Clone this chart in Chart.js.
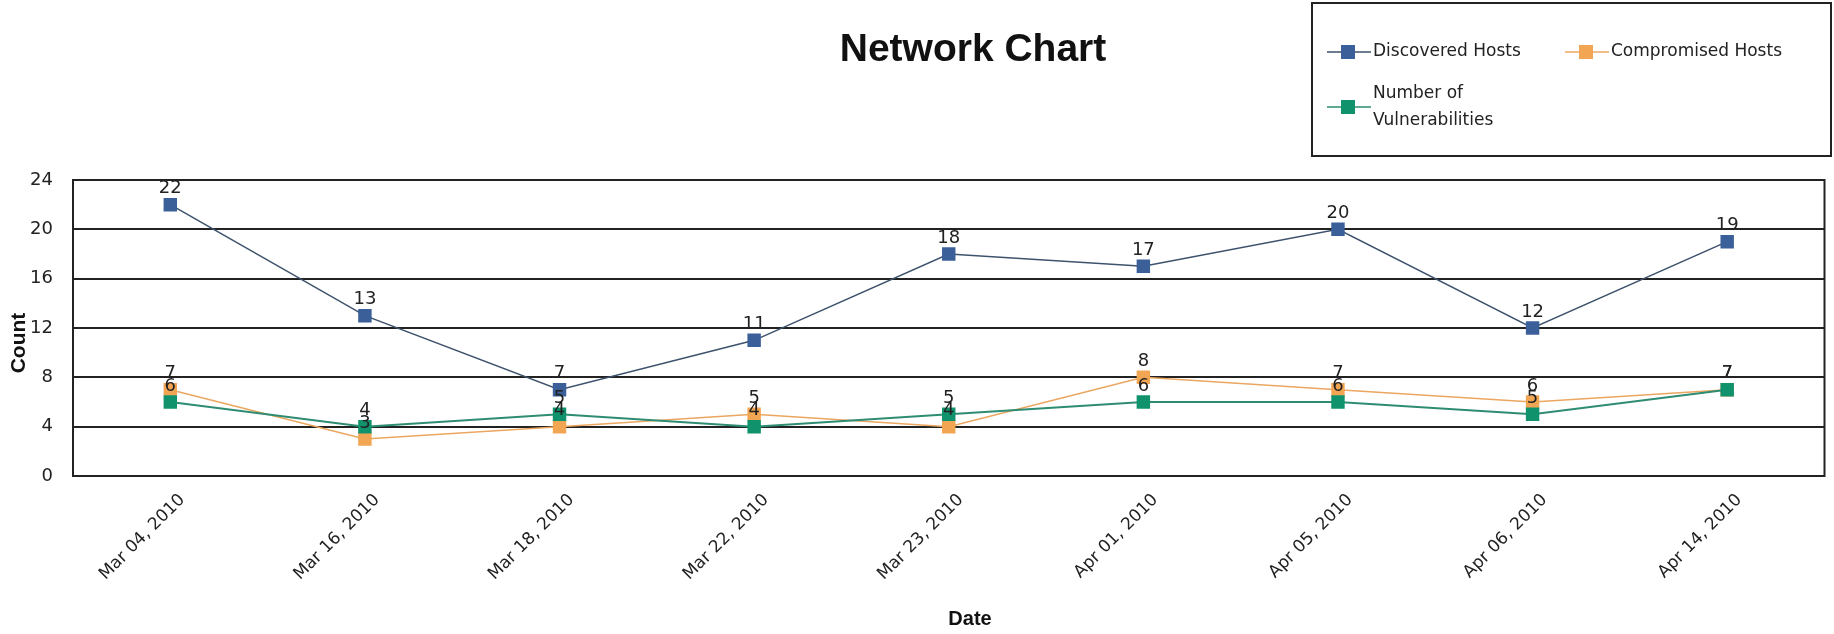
<!DOCTYPE html>
<html><head><meta charset="utf-8">
<script src="https://cdn.jsdelivr.net/npm/chart.js@4"></script>
<style>html,body{margin:0;padding:0;background:#fff;} canvas{display:block;}</style>
</head><body>
<canvas id="c" width="1834" height="634"></canvas>
<script>
const chartTitle = 'Network Chart';
const xAxisTitle = 'Date';
const yAxisTitle = 'Count';
const categories = ['Mar 04, 2010','Mar 16, 2010','Mar 18, 2010','Mar 22, 2010','Mar 23, 2010','Apr 01, 2010','Apr 05, 2010','Apr 06, 2010','Apr 14, 2010'];
const seriesNames = ['Discovered Hosts','Compromised Hosts','Number of Vulnerabilities'];
const discoveredHosts = [22,13,7,11,18,17,20,12,19];
const compromisedHosts = [7,3,4,5,4,8,7,6,7];
const vulnerabilities = [6,4,5,4,5,6,6,5,7];
const yTicks = [0,4,8,12,16,20,24];

const markerColors = ['#3b5f98','#f2a552','#10936c'];
const lineColors = ['#3d526c','#eba660','#2d8c72'];

Chart.defaults.font.family = "'DejaVu Sans', sans-serif";
Chart.defaults.color = '#222';

const frame = {
  id: 'frame',
  beforeDatasetsDraw(chart) {
    const a = chart.chartArea, ctx = chart.ctx;
    ctx.save();
    ctx.strokeStyle = '#222'; ctx.lineWidth = 2;
    ctx.strokeRect(a.left, a.top, a.right - a.left, a.bottom - a.top);
    ctx.restore();
  }
};

const valueLabels = {
  id: 'valueLabels',
  afterDatasetsDraw(chart) {
    const ctx = chart.ctx;
    ctx.save();
    ctx.font = "18px 'DejaVu Sans'";
    ctx.fillStyle = '#222';
    ctx.textAlign = 'center';
    ctx.textBaseline = 'bottom';
    chart.data.datasets.forEach((ds, i) => {
      const meta = chart.getDatasetMeta(i);
      meta.data.forEach((pt, j) => {
        ctx.fillText(String(ds.data[j]), pt.x, pt.y - 7);
      });
    });
    ctx.restore();
  }
};

function wrapText(ctx, text, maxW) {
  const words = text.split(' ');
  const lines = []; let cur = '';
  words.forEach(w => {
    const t = cur ? cur + ' ' + w : w;
    if (ctx.measureText(t).width > maxW && cur) { lines.push(cur); cur = w; }
    else cur = t;
  });
  if (cur) lines.push(cur);
  return lines;
}

const titleAndLegend = {
  id: 'titleAndLegend',
  afterDraw(chart) {
    const ctx = chart.ctx;
    ctx.save();
    // title
    ctx.font = "bold 39px 'Liberation Sans', Arial, sans-serif";
    ctx.fillStyle = '#111';
    ctx.textAlign = 'center';
    ctx.textBaseline = 'middle';
    ctx.fillText(chartTitle, 973, 50);
    // axis titles
    ctx.font = "bold 20px 'Liberation Sans', Arial, sans-serif";
    ctx.fillText(xAxisTitle, 970, 619);
    ctx.save();
    ctx.translate(19, 343);
    ctx.rotate(-Math.PI / 2);
    ctx.font = "bold 21px 'Liberation Sans', Arial, sans-serif";
    ctx.fillText(yAxisTitle, 0, 0);
    ctx.restore();
    // legend box
    ctx.strokeStyle = '#222'; ctx.lineWidth = 2;
    ctx.strokeRect(1312, 3, 519, 153);
    ctx.font = "17px 'DejaVu Sans'";
    ctx.textAlign = 'left';
    const colX = [1327, 1565];
    const rowY = [52, 107];
    chart.data.datasets.forEach((ds, i) => {
      const x0 = colX[i % 2], y0 = rowY[Math.floor(i / 2)];
      ctx.strokeStyle = ds.borderColor; ctx.lineWidth = 1.5;
      ctx.beginPath(); ctx.moveTo(x0, y0); ctx.lineTo(x0 + 44, y0); ctx.stroke();
      ctx.fillStyle = ds.pointBackgroundColor;
      ctx.fillRect(x0 + 14, y0 - 7, 14, 14);
      ctx.fillStyle = '#222';
      const lines = wrapText(ctx, ds.label, 190);
      const lh = 27;
      lines.forEach((ln, k) => {
        ctx.fillText(ln, x0 + 46, y0 + (k - (lines.length - 1) / 2) * lh);
      });
    });
    ctx.restore();
  }
};

const seriesData = [discoveredHosts, compromisedHosts, vulnerabilities];
const orders = [2, 1, 0];
new Chart(document.getElementById('c'), {
  type: 'line',
  data: {
    labels: categories,
    datasets: seriesData.map((d, i) => ({
      label: seriesNames[i],
      data: d,
      borderColor: lineColors[i],
      backgroundColor: markerColors[i],
      pointBackgroundColor: markerColors[i],
      pointBorderColor: markerColors[i],
      pointStyle: 'rect',
      pointRadius: 9.5,
      pointBorderWidth: 0,
      borderWidth: i === 2 ? 2 : 1.5,
      tension: 0,
      fill: false,
      order: orders[i]
    }))
  },
  options: {
    responsive: false,
    animation: false,
    layout: { padding: { top: 180, right: 3, left: 0, bottom: 0 } },
    plugins: { legend: { display: false }, title: { display: false }, tooltip: { enabled: false } },
    scales: {
      x: {
        offset: true,
        grid: { display: false, drawTicks: false },
        border: { display: true, color: '#222', width: 2 },
        ticks: { font: { size: 17 }, color: '#222', minRotation: 45, maxRotation: 45, padding: 14, labelOffset: 12 },
        title: { display: false },
        afterFit(scale) { scale.height = 158; }
      },
      y: {
        min: 0, max: 24,
        afterBuildTicks(scale) { scale.ticks = yTicks.map(v => ({ value: v })); },
        grid: { color: '#222', lineWidth: 2, drawTicks: false },
        border: { display: true, color: '#222', width: 2 },
        ticks: { font: { size: 18 }, color: '#222', padding: 20 },
        title: { display: false },
        afterFit(scale) { scale.width = 73; }
      }
    }
  },
  plugins: [frame, valueLabels, titleAndLegend]
});
</script>
</body></html>
